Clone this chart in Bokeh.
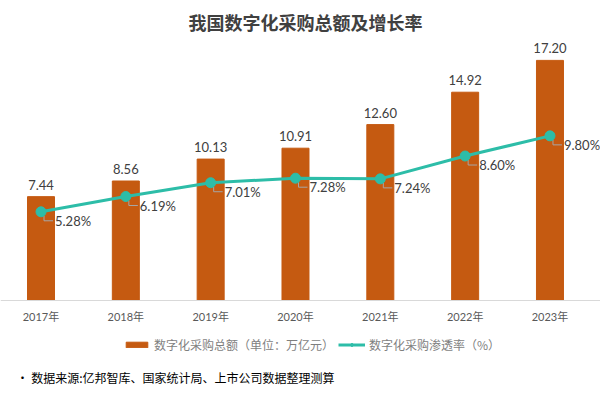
from bokeh.plotting import figure
from bokeh.models import Range1d, FixedTicker, Legend, LegendItem, ColumnDataSource, LabelSet, Label
from bokeh.core.properties import value
from bokeh.embed import file_html
from bokeh.resources import INLINE

# ---- data ----
years = ["2017年", "2018年", "2019年", "2020年", "2021年", "2022年", "2023年"]
amount = [7.44, 8.56, 10.13, 10.91, 12.60, 14.92, 17.20]
rate = [5.28, 6.19, 7.01, 7.28, 7.24, 8.60, 9.80]
title_text = "我国数字化采购总额及增长率"
bar_name = "数字化采购总额（单位：万亿元）"
line_name = "数字化采购渗透率（%）"
source_text = "•     数据来源:亿邦智库、国家统计局、上市公司数据整理测算"

# ---- layout constants ----
W, H = 600, 394
TOP = 40
FW, FH = W, H - TOP
BASE = 94            # px from frame bottom to the baseline
PLOT_H = FH - BASE   # px above the baseline
PXX = 84.83          # px per category
PXY = 13.96          # px per unit (amount)
PXY2 = 16.8          # px per percent
x_start = -40.5 / PXX
x_end = x_start + FW / PXX

CJK = "'Noto Sans CJK SC'"
NUM = "Lato, 'Noto Sans CJK SC'"
BAR = "#C55A11"
TEAL = "#2DBDA8"

xs = list(range(len(years)))
src = ColumnDataSource(dict(
    x=xs, amount=amount, rate=rate,
    amount_lbl=[f"{v:.2f}" for v in amount],
    rate_lbl=[f"{v:.2f}%" for v in rate],
    lx=[x + 3 / PXX for x in xs],
    lx2=[x + 12 / PXX for x in xs],
    ly0=[r - 4 / PXY2 for r in rate],
    ly1=[r - 9 / PXY2 for r in rate],
))

p = figure(width=W, height=H, frame_width=FW, frame_height=FH,
           output_backend="svg", toolbar_location=None,
           x_range=Range1d(x_start, x_end),
           y_range=Range1d(-BASE / PXY, PLOT_H / PXY),
           y_axis_location=None, min_border_left=0, min_border_right=0,
           min_border_top=TOP, min_border_bottom=0)
p.extra_y_ranges = {"pct": Range1d(-BASE / PXY2, PLOT_H / PXY2)}
p.outline_line_color = None
p.grid.visible = False
p.background_fill_color = "white"
p.border_fill_color = "white"

p.title.text = title_text
p.title.align = "left"
p.title.offset = 188
p.title.standoff = 12
p.title.text_font = CJK
p.title.text_font_size = "18px"
p.title.text_font_style = "bold"
p.title.text_color = "#404040"

bars = p.vbar(x="x", top="amount", bottom=0, width=27 / PXX, source=src,
              fill_color=BAR, line_color=BAR)
p.add_layout(LabelSet(x="x", y="amount", text="amount_lbl", source=src, text_align="center",
                      text_baseline="bottom", y_offset=7, text_font=value(NUM),
                      text_font_size="13px", text_color="#404040"))

# leader lines
p.segment(x0="lx", y0="ly0", x1="lx", y1="ly1", source=src, y_range_name="pct",
          line_color="#A6A6A6", line_width=1)
p.segment(x0="lx", y0="ly1", x1="lx2", y1="ly1", source=src, y_range_name="pct",
          line_color="#A6A6A6", line_width=1)

ln = p.line(x="x", y="rate", source=src, y_range_name="pct", line_color=TEAL, line_width=3)
dots = p.scatter(x="x", y="rate", source=src, y_range_name="pct", size=10,
                 fill_color=TEAL, line_color=TEAL)
p.add_layout(LabelSet(x="x", y="rate", text="rate_lbl", source=src, y_range_name="pct",
                      x_offset=14, y_offset=-9, text_align="left", text_baseline="middle",
                      text_font=value(NUM), text_font_size="13px", text_color="#404040"))

ax = p.xaxis[0]
ax.fixed_location = 0
ax.ticker = FixedTicker(ticks=xs)
ax.major_label_overrides = {i: y for i, y in enumerate(years)}
ax.axis_line_color = "#D9D9D9"
ax.major_tick_line_color = None
ax.minor_tick_line_color = None
ax.major_tick_out = 0
ax.major_label_standoff = 9
ax.major_label_text_font = NUM
ax.major_label_text_font_size = "11px"
ax.major_label_text_color = "#595959"

legend = Legend(items=[LegendItem(label=value(bar_name), renderers=[bars]),
                       LegendItem(label=value(line_name), renderers=[ln, dots])],
                orientation="horizontal", location=(123, 41),
                label_text_font=CJK, label_text_font_size="12px",
                label_text_color="#7F7F7F", glyph_width=27, glyph_height=7,
                label_standoff=4, spacing=4, padding=0, margin=0,
                border_line_color=None, background_fill_alpha=0)
p.add_layout(legend)

p.add_layout(Label(x=16, y=17, x_units="screen", y_units="screen", text=source_text,
                   text_align="left", text_baseline="middle", text_font=CJK,
                   text_font_size="12px", text_color="#000000"))

open("out.html", "w").write(file_html(p, INLINE))
